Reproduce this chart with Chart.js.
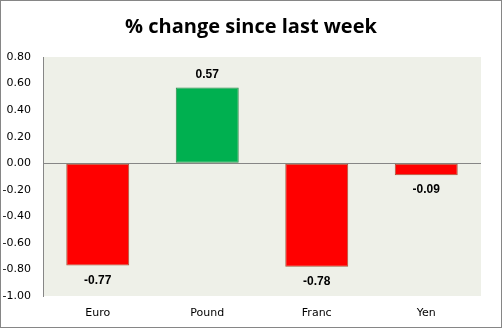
<!DOCTYPE html>
<html>
<head>
    <title>% change since last week</title>
    <script src="https://cdn.jsdelivr.net/npm/chart.js"></script>
    <style>
        body {
            margin: 0;
            padding: 0;
            background: white;
        }
        .box {
            width: 500px;
            height: 326px;
            border: 1px solid #868686;
            position: relative;
        }
    </style>
</head>
<body>
    <div class="box">
        <canvas id="chart" width="500" height="326"></canvas>
    </div>

    <script>
        const categories = ["Euro", "Pound", "Franc", "Yen"];
        const changes = [-0.77, 0.57, -0.78, -0.09];
        const yTicks = [0.8, 0.6, 0.4, 0.2, 0, -0.2, -0.4, -0.6, -0.8, -1.0];
        const titleText = "% change since last week";

        const fills = changes.map(v => v >= 0 ? "#00b050" : "#ff0000");
        const borders = changes.map(v => v >= 0 ? "#2f8a4a" : "#a5553a");

        // plot background + title + value labels
        const extras = {
            id: "extras",
            beforeDraw(chart) {
                const a = chart.chartArea;
                const ctx = chart.ctx;
                ctx.save();
                ctx.fillStyle = "#eef0e8";
                ctx.fillRect(a.left, a.top, a.right - a.left, a.bottom - a.top);
                ctx.restore();
            },
            afterDraw(chart) {
                const ctx = chart.ctx;
                ctx.save();
                ctx.fillStyle = "#000";
                ctx.textAlign = "center";
                ctx.textBaseline = "middle";
                ctx.font = "bold 20px 'Open Sans'";
                ctx.fillText(titleText, 250, 26);

                ctx.font = "bold 12px 'Liberation Sans'";
                chart.getDatasetMeta(0).data.forEach((bar, i) => {
                    const v = changes[i];
                    const y = v >= 0 ? bar.y - 13 : bar.y + 15;
                    ctx.fillText(v.toFixed(2), bar.x, y);
                });
                ctx.restore();
            }
        };

        new Chart(document.getElementById("chart"), {
            type: "bar",
            data: {
                labels: categories,
                datasets: [{
                    data: changes,
                    backgroundColor: fills,
                    borderColor: borders,
                    borderWidth: 1,
                    borderSkipped: false,
                    categoryPercentage: 1,
                    barPercentage: 0.575
                }]
            },
            options: {
                responsive: false,
                animation: false,
                layout: { padding: { top: 56, right: 20, left: 0, bottom: 0 } },
                plugins: {
                    legend: { display: false },
                    title: { display: false },
                    tooltip: { enabled: false }
                },
                scales: {
                    x: {
                        grid: { display: false, drawTicks: false },
                        border: { display: false },
                        ticks: {
                            color: "#000",
                            padding: 11,
                            font: { family: "'DejaVu Sans'", size: 11 }
                        },
                        afterFit(scale) { scale.height = 31; }
                    },
                    y: {
                        min: -1,
                        max: 0.8,
                        afterBuildTicks(scale) {
                            scale.ticks = yTicks.map(v => ({ value: v }));
                        },
                        grid: {
                            drawTicks: false,
                            color: ctx => ctx.tick && ctx.tick.value === 0 ? "#868686" : "rgba(0,0,0,0)"
                        },
                        border: { display: true, color: "#868686" },
                        ticks: {
                            color: "#000",
                            padding: 12,
                            font: { family: "'DejaVu Sans'", size: 11 },
                            callback: v => v.toFixed(2)
                        },
                        afterFit(scale) { scale.width = 42; }
                    }
                }
            },
            plugins: [extras]
        });
    </script>
</body>
</html>
